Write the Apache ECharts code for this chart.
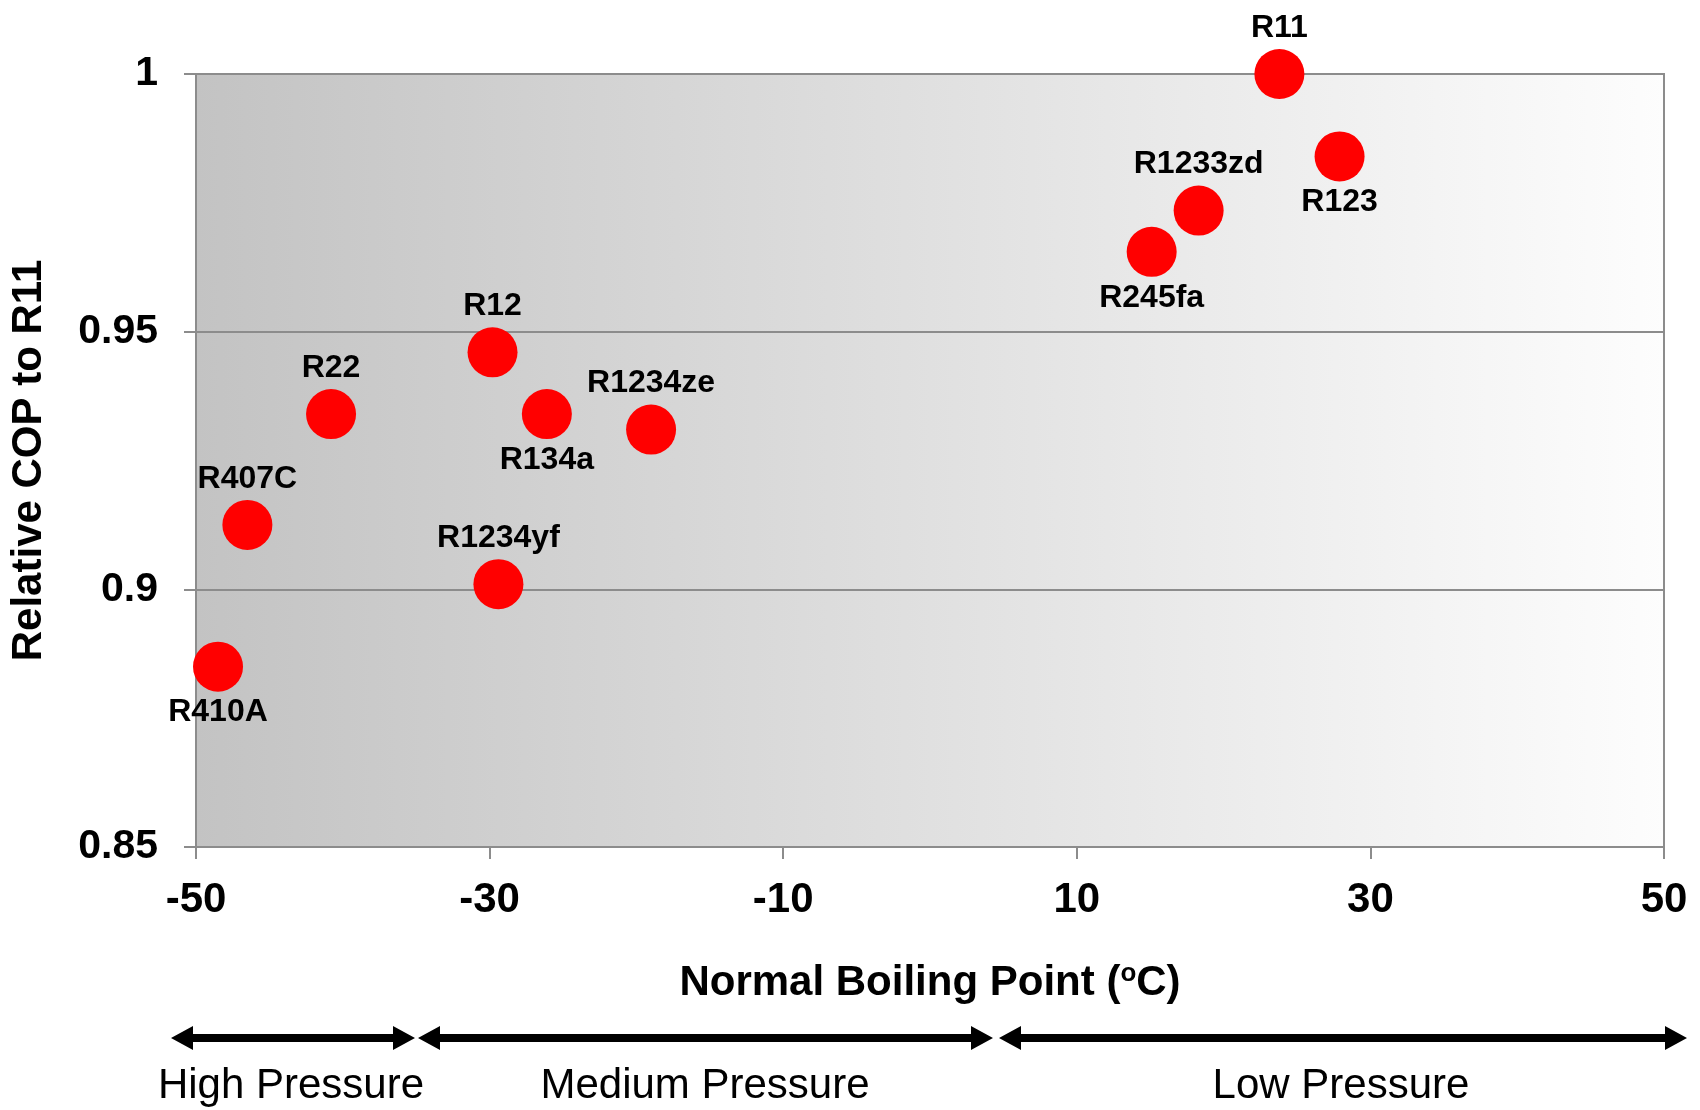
<!DOCTYPE html>
<html>
<head>
<meta charset="utf-8">
<script src="https://cdn.jsdelivr.net/npm/echarts@6/dist/echarts.min.js"></script>
<style>
  html, body { margin: 0; padding: 0; background: #fff; }
  #chart { width: 1700px; height: 1110px; }
</style>
</head>
<body>
<div id="chart"></div>
<script>
// refrigerants: normal boiling point (C) vs COP relative to R11
var names = ['R410A', 'R407C', 'R22', 'R12', 'R1234yf', 'R134a', 'R1234ze', 'R245fa', 'R1233zd', 'R11', 'R123']
var boilingPoint = [-48.5, -46.5, -40.8, -29.8, -29.4, -26.1, -19.0, 15.1, 18.3, 23.8, 27.9]
var relativeCop = [0.885, 0.9125, 0.934, 0.946, 0.901, 0.934, 0.931, 0.9655, 0.9735, 1.0, 0.984]
var labelSide = ['bottom', 'top', 'top', 'top', 'top', 'bottom', 'top', 'bottom', 'top', 'top', 'bottom']
var xTicks = [-50, -30, -10, 10, 30, 50]
var yTicks = [0.85, 0.9, 0.95, 1]
var pressureBands = ['High Pressure', 'Medium Pressure', 'Low Pressure']

var font = 'Liberation Sans, Arial, sans-serif'

var obj = {

  chart: null,

  buildData: function () {
    let data = []
    for (let i = 0; i < names.length; i++) {
      data.push({
        name: names[i],
        value: [boilingPoint[i], relativeCop[i]],
        label: { position: labelSide[i] }
      })
    }
    return data
  },

  // double headed arrow as one polygon
  makeArrow: function (x1, x2, y) {
    let h = 4, head = 12, len = 22
    return {
      type: 'polygon',
      shape: {
        points: [
          [x1, y], [x1 + len, y - head], [x1 + len, y - h], [x2 - len, y - h],
          [x2 - len, y - head], [x2, y], [x2 - len, y + head], [x2 - len, y + h],
          [x1 + len, y + h], [x1 + len, y + head]
        ]
      },
      style: { fill: '#000' }
    }
  },

  bandText: function (text, x) {
    return {
      type: 'text',
      x: x,
      y: 1086,
      style: {
        text: text,
        font: '42px ' + font,
        fill: '#000',
        align: 'center',
        verticalAlign: 'middle'
      }
    }
  },

  initChart: function () {
    let that = this
    that.chart = echarts.init(document.getElementById('chart'))
    let option = {
      animation: false,
      grid: {
        left: 195,
        right: 36,
        top: 74,
        bottom: 263,
        show: true,
        borderColor: '#8c8c8c',
        borderWidth: 2,
        backgroundColor: {
          type: 'linear', x: 0, y: 0, x2: 1, y2: 0,
          colorStops: [
            { offset: 0, color: '#c3c3c3' },
            { offset: 1, color: '#fdfdfd' }
          ]
        }
      },
      xAxis: {
        type: 'value',
        min: xTicks[0],
        max: xTicks[xTicks.length - 1],
        interval: 20,
        name: 'Normal Boiling Point ({sup|o}C)',
        nameLocation: 'middle',
        nameGap: 114,
        nameTextStyle: {
          fontFamily: font, fontSize: 42, fontWeight: 'bold', color: '#000',
          rich: {
            sup: { fontFamily: font, fontSize: 26, fontWeight: 'bold', verticalAlign: 'top', padding: [0, 0, 18, 0] }
          }
        },
        axisLine: { show: true, onZero: false, lineStyle: { color: '#8c8c8c', width: 2 } },
        axisTick: { show: true, length: 12, lineStyle: { color: '#8c8c8c', width: 2 } },
        splitLine: { show: false },
        axisLabel: { fontFamily: font, fontSize: 42, fontWeight: 'bold', color: '#000', margin: 32 }
      },
      yAxis: {
        type: 'value',
        min: yTicks[0],
        max: yTicks[yTicks.length - 1],
        interval: 0.05,
        name: 'Relative COP to R11',
        nameLocation: 'middle',
        nameGap: 146,
        nameTextStyle: { fontFamily: font, fontSize: 42, fontWeight: 'bold', color: '#000' },
        axisLine: { show: true, onZero: false, lineStyle: { color: '#8c8c8c', width: 2 } },
        axisTick: { show: true, length: 12, lineStyle: { color: '#8c8c8c', width: 2 } },
        splitLine: { show: true, lineStyle: { color: '#8c8c8c', width: 2 } },
        axisLabel: {
          fontFamily: font, fontSize: 41, fontWeight: 'bold', color: '#000', margin: 38,
          formatter: function (v) { return String(+v.toFixed(2)) }
        }
      },
      series: [{
        type: 'scatter',
        clip: false,
        symbol: 'circle',
        symbolSize: 50,
        itemStyle: { color: '#ff0000', opacity: 1 },
        label: {
          show: true,
          formatter: '{b}',
          distance: 5,
          fontFamily: font,
          fontSize: 32,
          fontWeight: 'bold',
          color: '#000'
        },
        data: that.buildData()
      }],
      graphic: [
        that.makeArrow(171, 415, 1038),
        that.makeArrow(418, 993, 1038),
        that.makeArrow(999, 1687, 1038),
        that.bandText(pressureBands[0], 291),
        that.bandText(pressureBands[1], 705),
        that.bandText(pressureBands[2], 1341)
      ]
    }
    that.chart.setOption(option, true)
  },

  init: function () {
    this.initChart()
  }
}

obj.init()
</script>
</body>
</html>
